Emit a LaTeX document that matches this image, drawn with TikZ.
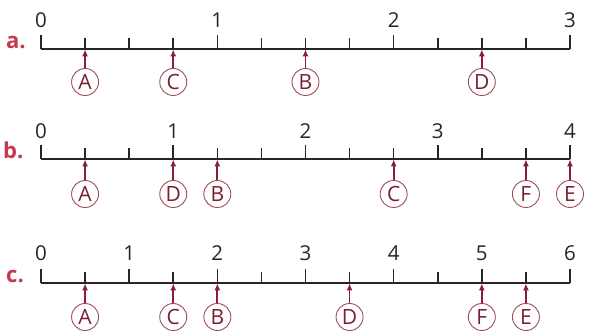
\documentclass[tikz,border=0pt]{standalone}
\usepackage{fontspec}
\setmainfont{Open Sans}
\usetikzlibrary{arrows.meta,positioning}
\definecolor{lineDark}{HTML}{262626}
\definecolor{rowRed}{HTML}{C8374E}
\definecolor{arrowRed}{HTML}{8A1C3C}
\definecolor{ringRed}{HTML}{9C4F58}
\definecolor{letterRed}{HTML}{7A1F35}
\tikzset{
  >={Latex[length=7pt,width=6pt]},
  axisline/.style={draw=lineDark,line width=1.9pt},
  tickmark/.style={draw=lineDark,line width=1.6pt},
  numlabel/.style={font=\fontsize{20.5}{21}\selectfont,text=lineDark,inner sep=0pt},
  rowlabel/.style={font=\bfseries\fontsize{22}{22}\selectfont,text=rowRed,inner sep=0pt,anchor=base west},
  point/.style={circle,draw=ringRed,line width=0.9pt,minimum size=27pt,inner sep=0pt,text=letterRed,font=\fontsize{21}{21}\selectfont},
  markarrow/.style={->,draw=arrowRed,line width=1.7pt,shorten >=0.4pt},
}

\begin{document}
\begin{tikzpicture}[x=1pt,y=1pt]
  \fill[white] (0,0) rectangle (603,-336);
  \useasboundingbox (0,0) rectangle (603,-336);

  \foreach \r/\y in {a/-49,b/-159,c/-283}{
    \foreach \i in {0,...,12} \coordinate (\r\i) at (41+44.083*\i,\y);
    \draw[axisline] (\r0) -- (\r12);
    \foreach \i in {0,...,12} \draw[tickmark] (\r\i) -- ++(0,11);
  }

  \foreach \i [count=\n from 0] in {0,4,8,12}{
    \draw[tickmark] (a\i) -- ++(0,14);
    \node[numlabel] (anum\n) at ([yshift=29]a\i) {\n};
  }
  \foreach \i [count=\n from 0] in {0,3,6,9,12}{
    \draw[tickmark] (b\i) -- ++(0,14);
    \node[numlabel] (bnum\n) at ([yshift=28]b\i) {\n};
  }
  \foreach \i [count=\n from 0] in {0,2,...,12}{
    \draw[tickmark] (c\i) -- ++(0,14);
    \node[numlabel] (cnum\n) at ([yshift=30]c\i) {\n};
  }

  \node[rowlabel] (rowa) at (6,-49) {a.};
  \node[rowlabel] (rowb) at (3,-159) {b.};
  \node[rowlabel] (rowc) at (6,-283) {c.};

  \node[point] (aA) at ([yshift=-33]a1) {A};
  \node[point] (aC) at ([yshift=-33]a3) {C};
  \node[point] (aB) at ([yshift=-33]a6) {B};
  \node[point] (aD) at ([yshift=-33]a10) {D};

  \node[point] (bA) at ([yshift=-35]b1) {A};
  \node[point] (bD) at ([yshift=-35]b3) {D};
  \node[point] (bB) at ([yshift=-35]b4) {B};
  \node[point] (bC) at ([yshift=-35]b8) {C};
  \node[point] (bF) at ([yshift=-35]b11) {F};
  \node[point] (bE) at ([yshift=-35]b12) {E};

  \node[point] (cA) at ([yshift=-34]c1) {A};
  \node[point] (cC) at ([yshift=-34]c3) {C};
  \node[point] (cB) at ([yshift=-34]c4) {B};
  \node[point] (cD) at ([yshift=-34]c7) {D};
  \node[point] (cF) at ([yshift=-34]c10) {F};
  \node[point] (cE) at ([yshift=-34]c11) {E};

  \foreach \p/\t in {aA/a1,aC/a3,aB/a6,aD/a10,bA/b1,bD/b3,bB/b4,bC/b8,bF/b11,bE/b12,cA/c1,cC/c3,cB/c4,cD/c7,cF/c10,cE/c11}
    \draw[markarrow] (\p) -- (\t);
\end{tikzpicture}
\end{document}
